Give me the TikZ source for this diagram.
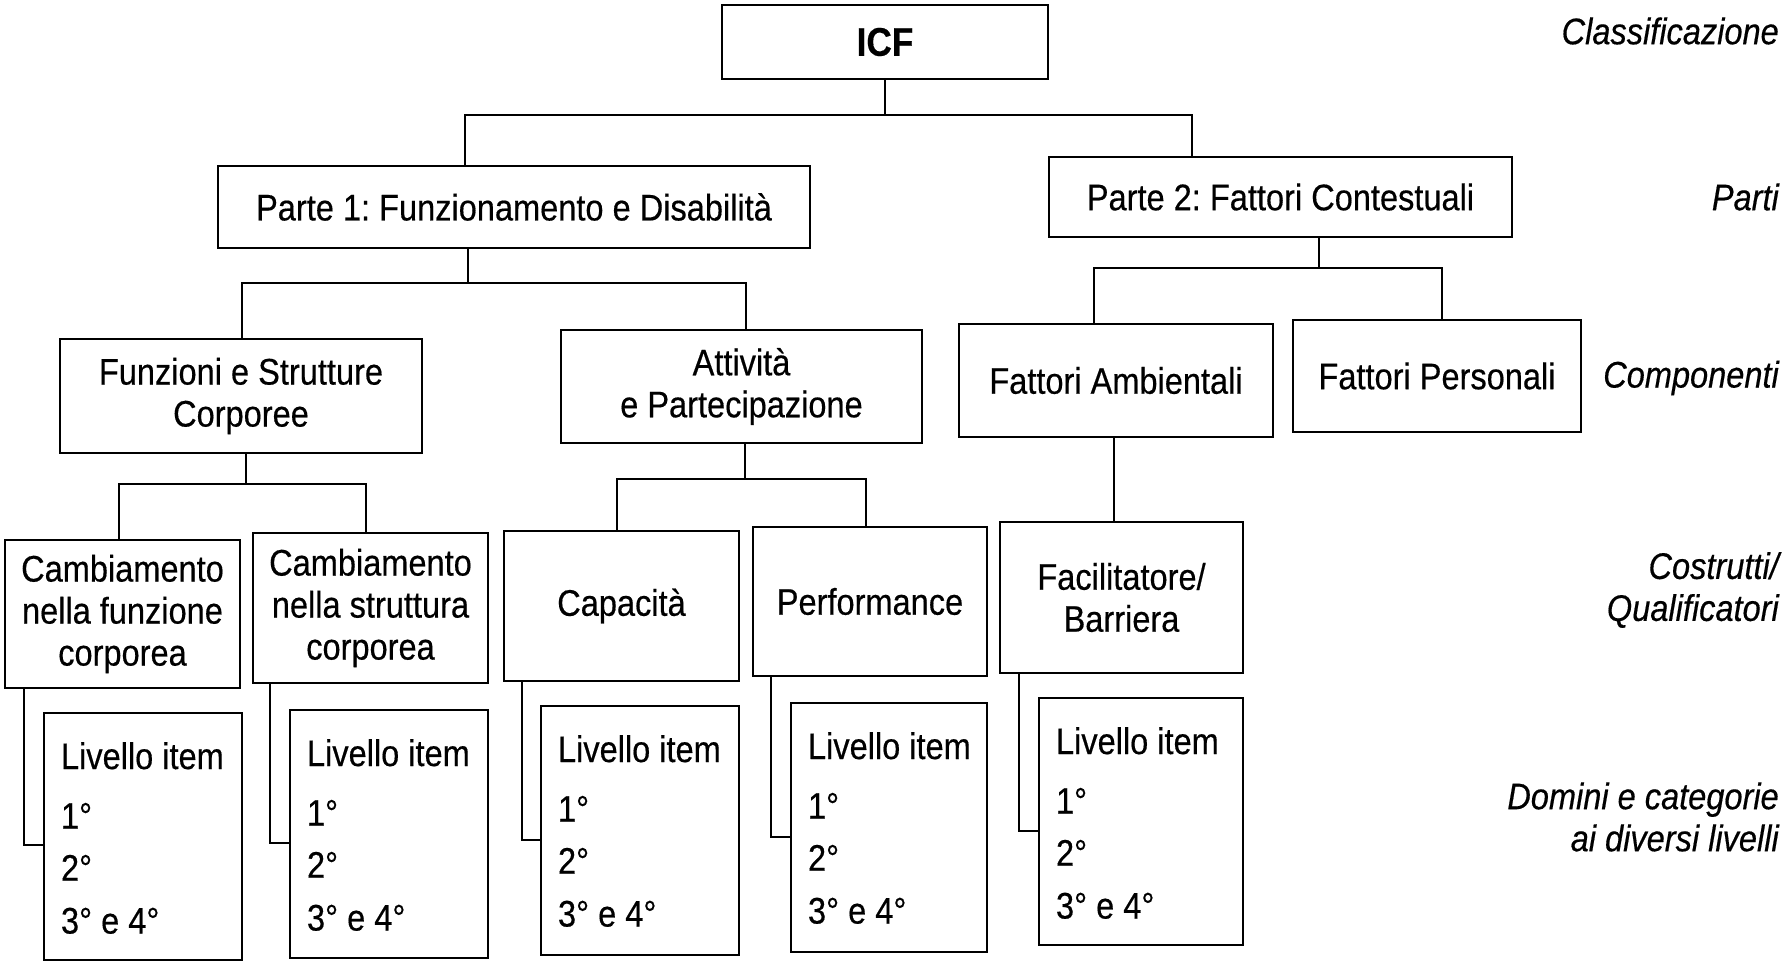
\documentclass[tikz,border=0pt]{standalone}
\usepackage{fontspec}
\setmainfont{Liberation Sans}[FakeStretch=0.88, FakeBold=0.4]
\usetikzlibrary{calc}
\frenchspacing
\newcommand\lvlines[1]{%
  \node[lvt] (#1a) at ($(#1.north west)+(18,44)$) {Livello item};
  \node[lvt] (#1b) at ($(#1.north west)+(18,104)$) {1°};
  \node[lvt] (#1c) at ($(#1.north west)+(18,156)$) {2°};
  \node[lvt] (#1d) at ($(#1.north west)+(18,209)$) {3° e 4°};}
\begin{document}
\frenchspacing
\begin{tikzpicture}[x=1pt,y=-1pt,
  every node/.style={font=\fontsize{37}{42}\selectfont},
  box/.style={draw, line width=2.4pt, inner sep=0pt, align=center},
  conn/.style={line width=2.2pt},
  lab/.style={anchor=east, align=right, inner sep=0pt, font=\fontsize{37}{42}\selectfont\itshape},
  lvt/.style={anchor=west, inner sep=0pt}]
\useasboundingbox[fill=white] (0,0) rectangle (1786,963);

% level 0
\node[box, minimum width=326pt, minimum height=74pt, font=\fontsize{40}{44}\selectfont\bfseries] (icf) at (885,42) {ICF};
% level 1
\node[box, minimum width=592pt, minimum height=82pt] (p1) at (514,207) {Parte 1: Funzionamento e Disabilità};
\node[box, minimum width=463pt, minimum height=80pt] (p2) at (1280.5,197) {Parte 2: Fattori Contestuali};
% level 2
\node[box, minimum width=362pt, minimum height=114pt] (fun) at (241,396) {Funzioni e Strutture\\Corporee};
\node[box, minimum width=361pt, minimum height=113pt] (att) at (741.5,386.5) {Attività\\e Partecipazione};
\node[box, minimum width=314pt, minimum height=113pt] (amb) at (1116,380.5) {Fattori Ambientali};
\node[box, minimum width=288pt, minimum height=112pt] (per) at (1437,376) {Fattori Personali};
% level 3
\node[box, minimum width=235pt, minimum height=148pt] (cf1) at (122.5,614) {Cambiamento\\nella funzione\\corporea};
\node[box, minimum width=235pt, minimum height=150pt] (cf2) at (370.5,608) {Cambiamento\\nella struttura\\corporea};
\node[box, minimum width=235pt, minimum height=150pt] (cap) at (621.5,606) {Capacità};
\node[box, minimum width=234pt, minimum height=149pt] (prf) at (870,601.5) {Performance};
\node[box, minimum width=243pt, minimum height=151pt] (fac) at (1121.5,597.5) {Facilitatore/\\Barriera};
% level 4
\node[box, minimum width=198pt, minimum height=247pt] (l1) at (143,836.5) {};
\node[box, minimum width=198pt, minimum height=248pt] (l2) at (389,834) {};
\node[box, minimum width=198pt, minimum height=249pt] (l3) at (640,830.5) {};
\node[box, minimum width=196pt, minimum height=249pt] (l4) at (889,827.5) {};
\node[box, minimum width=204pt, minimum height=247pt] (l5) at (1141,821.5) {};
\lvlines{l1}
\lvlines{l2}
\lvlines{l3}
\lvlines{l4}
\lvlines{l5}

% right labels
\node[lab] (c1) at (1779,31) {Classificazione};
\node[lab] (c2) at (1779,197) {Parti};
\node[lab] (c3) at (1779,378) {Componenti};
\node[lab] (c4) at (1779,590) {Costrutti/\\Qualificatori};
\node[lab] (c5) at (1779,817) {Domini e categorie\\ai diversi livelli};

% connectors
\coordinate (a1) at (465,115); \coordinate (a2) at (1192,115);
\draw[conn] (icf.south) -- (icf.south |- a1);
\draw[conn] (p1.north -| a1) -- (a1) -- (a2) -- (p2.north -| a2);

\coordinate (b0) at (468,283); \coordinate (b1) at (242,283); \coordinate (b2) at (746,283);
\draw[conn] (p1.south -| b0) -- (b0);
\draw[conn] (fun.north -| b1) -- (b1) -- (b2) -- (att.north -| b2);

\coordinate (d0) at (1319,268); \coordinate (d1) at (1094,268); \coordinate (d2) at (1442,268);
\draw[conn] (p2.south -| d0) -- (d0);
\draw[conn] (amb.north -| d1) -- (d1) -- (d2) -- (per.north -| d2);

\coordinate (e0) at (246,484); \coordinate (e1) at (119,484); \coordinate (e2) at (366,484);
\draw[conn] (fun.south -| e0) -- (e0);
\draw[conn] (cf1.north -| e1) -- (e1) -- (e2) -- (cf2.north -| e2);

\coordinate (f0) at (745,479); \coordinate (f1) at (617,479); \coordinate (f2) at (866,479);
\draw[conn] (att.south -| f0) -- (f0);
\draw[conn] (cap.north -| f1) -- (f1) -- (f2) -- (prf.north -| f2);

\coordinate (g0) at (1114,0);
\draw[conn] (amb.south -| g0) -- (fac.north -| g0);

\coordinate (s1) at (24,845);
\coordinate (s2) at (270,843);
\coordinate (s3) at (522,840);
\coordinate (s4) at (771,837);
\coordinate (s5) at (1019,831);
\draw[conn] (cf1.south -| s1) -- (s1) -- (l1.west |- s1);
\draw[conn] (cf2.south -| s2) -- (s2) -- (l2.west |- s2);
\draw[conn] (cap.south -| s3) -- (s3) -- (l3.west |- s3);
\draw[conn] (prf.south -| s4) -- (s4) -- (l4.west |- s4);
\draw[conn] (fac.south -| s5) -- (s5) -- (l5.west |- s5);
\end{tikzpicture}
\end{document}
